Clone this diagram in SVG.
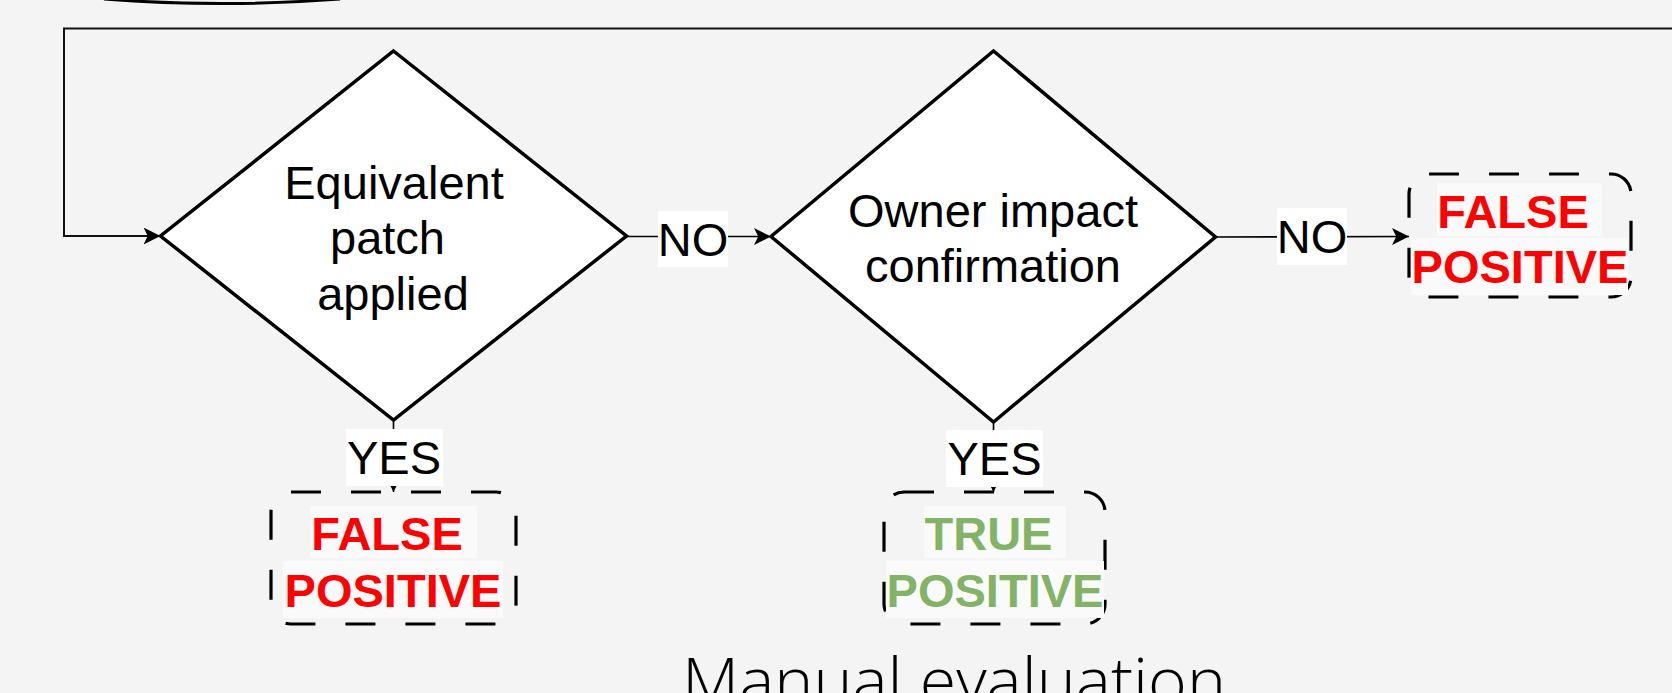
<svg xmlns="http://www.w3.org/2000/svg" width="1672" height="693" viewBox="0 0 1672 693">
<style>
.t{font-family:"Liberation Sans",Arial,sans-serif;font-size:47px;fill:#000;text-anchor:middle}
.b{font-weight:bold}
.red{fill:#ff0000}
.grn{fill:#82b366}
.dia{fill:#fff;stroke:#000;stroke-width:3.5;stroke-linejoin:miter}
.dash{fill:none;stroke:#000;stroke-width:3.2;stroke-dasharray:30 30}
.lbg{fill:#fff}
.tbg{fill:#fafafa}
.con{fill:none;stroke:#000;stroke-width:1.6}
.loop{fill:none;stroke:#111;stroke-width:2}
.title{font-family:"Open Sans","Lato","Liberation Sans",sans-serif;font-weight:300;font-size:64px;fill:#000}
</style>
<defs>
<marker id="arr" markerUnits="userSpaceOnUse" markerWidth="17" markerHeight="17" viewBox="0 0 16 16" refX="16" refY="8" orient="auto">
<path d="M0,0 L16,8 L0,16 L4,8 Z" fill="#000"/>
</marker>
</defs>
<rect x="0" y="0" width="1672" height="693" fill="#f4f4f4"/>

<g id="partial-shape">
<path d="M104,-1 Q222,8 340,-1" fill="none" stroke="#000" stroke-width="3"/>
</g>

<g id="node-equivalent-patch">
<polygon class="dia" points="393.5,51 626.5,236 393.5,420 160.5,236"/>
<text class="t" x="394" y="198.5">Equivalent</text>
<text class="t" x="387.5" y="254">patch</text>
<text class="t" x="393" y="309.5">applied</text>
</g>

<g id="node-owner-impact">
<polygon class="dia" points="993.5,51 1215.5,237 993.5,422 771,236.5"/>
<text class="t" x="993" y="226.5">Owner impact</text>
<text class="t" x="993" y="281.5">confirmation</text>
</g>

<g id="node-false-positive-right">
<rect class="dash" x="1409" y="174" width="222" height="123" rx="20"/>
<rect class="tbg" x="1437" y="183" width="165" height="53"/>
<rect class="tbg" x="1411" y="238" width="217" height="57"/>
<text class="t b red" x="1513" y="228">FALSE</text>
<text class="t b red" x="1520" y="283">POSITIVE</text>
</g>

<g id="node-false-positive-bottom">
<rect class="dash" x="271" y="492" width="245" height="132" rx="20"/>
<rect class="tbg" x="310" y="506" width="167" height="52"/>
<rect class="tbg" x="283" y="561" width="220" height="57"/>
<text class="t b red" x="387" y="549.5">FALSE</text>
<text class="t b red" x="393" y="606.5">POSITIVE</text>
</g>

<g id="node-true-positive">
<rect class="dash" x="884" y="492" width="221" height="132" rx="20"/>
<rect class="tbg" x="924" y="506" width="142" height="52"/>
<rect class="tbg" x="886" y="561" width="218" height="57"/>
<text class="t b grn" x="988.5" y="549.5">TRUE</text>
<text class="t b grn" x="995" y="606.5">POSITIVE</text>
</g>

<g id="connectors">
<path class="loop" d="M1672,28.5 H64 V236 H160.5" marker-end="url(#arr)"/>
<path class="con" d="M626.5,236.5 L771,236.5" marker-end="url(#arr)"/>
<path class="con" d="M1215.5,237 L1409,236.5" marker-end="url(#arr)"/>
<path class="con" d="M393.5,420 L393.5,492" marker-end="url(#arr)"/>
<path class="con" d="M993.5,422 L993.5,492" marker-end="url(#arr)"/>
</g>

<g id="edge-labels">
<rect class="lbg" x="658" y="211" width="70" height="56"/>
<text class="t" x="693" y="256">NO</text>
<rect class="lbg" x="1277" y="208" width="70" height="57"/>
<text class="t" x="1312" y="253">NO</text>
<rect class="lbg" x="346" y="429" width="97" height="57"/>
<text class="t" x="394" y="474">YES</text>
<rect class="lbg" x="946" y="430" width="97" height="57"/>
<text class="t" x="994.5" y="475">YES</text>
</g>

<g id="caption">
<text class="title" x="682" y="704" textLength="544" lengthAdjust="spacingAndGlyphs">Manual evaluation</text>
</g>
</svg>
